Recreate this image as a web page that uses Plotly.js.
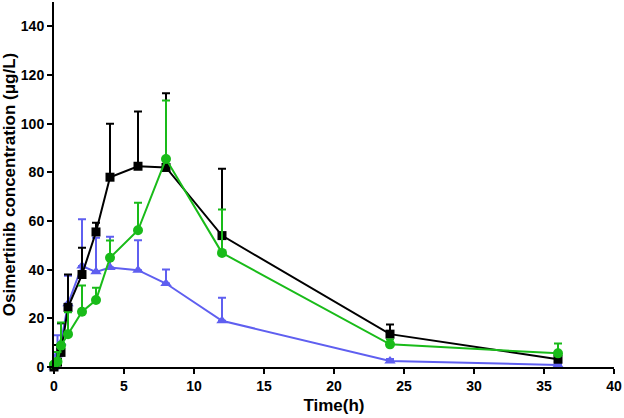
<!DOCTYPE html>
<html>
<head>
<meta charset="utf-8">
<script src="https://cdn.plot.ly/plotly-3.0.1.min.js"></script>
<style>html,body{margin:0;padding:0;background:#fff;}#chart{width:624px;height:418px;}</style>
</head>
<body>
<div id="chart"></div>
<script>
const timeH = [0, 0.25, 0.5, 1, 2, 3, 4, 6, 8, 12, 24, 36];

const blackMean = [0, 2, 6, 24.5, 38, 55.5, 78, 82.5, 82, 54, 13.5, 3.2];
const blackSD   = [0, 7, 12, 13.5, 11, 3.8, 22, 22.5, 30.5, 27.5, 4, 1.5];

const greenMean = [1, 2.2, 8.8, 13.5, 22.7, 27.5, 44.9, 56.2, 85.5, 46.9, 9.3, 5.6];
const greenSD   = [0.5, 4, 9.5, 9, 10.8, 5.1, 7.1, 11.3, 24, 17.8, 2, 4.1];

const blueMean = [0, 5, 10, 26, 41.5, 39.1, 40.9, 39.8, 34.3, 19, 2.5, 0.8];
const blueSD   = [0, 8, 8, 11.5, 19.2, 14, 12.6, 12.3, 5.8, 9.5, 0.8, 0.4];

const zeros = timeH.map(() => 0);

function series(y, sd, color, symbol, size) {
  return {
    x: timeH, y: y, type: 'scatter', mode: 'lines+markers',
    line: {color: color, width: 2},
    marker: {color: color, symbol: symbol, size: size},
    error_y: {type: 'data', symmetric: false, array: sd, arrayminus: zeros,
              color: color, thickness: 2, width: 4},
    cliponaxis: false, showlegend: false
  };
}

const traces = [
  series(blueMean, blueSD, '#5f5ff0', 'triangle-up', 10),
  series(blackMean, blackSD, '#000000', 'square', 9),
  series(greenMean, greenSD, '#19bb19', 'circle', 10)
];

const fam = 'Liberation Sans, Arial, sans-serif';
const font = {family: fam, color: '#000', size: 14, weight: 'bold'};
const titleFont = {family: fam, color: '#000', size: 17, weight: 'bold'};

const layout = {
  width: 624, height: 418,
  margin: {l: 54, r: 10, t: 2, b: 51},
  paper_bgcolor: '#fff', plot_bgcolor: '#fff',
  font: font,
  xaxis: {
    range: [0, 40], tickvals: [0, 5, 10, 15, 20, 25, 30, 35, 40],
    showgrid: false, zeroline: false, showline: true, linecolor: '#000', linewidth: 2,
    ticks: 'outside', ticklen: 5, tickwidth: 2, tickcolor: '#000',
    tickfont: font,
    title: {text: 'Time(h)', font: titleFont, standoff: 6}
  },
  yaxis: {
    range: [0, 150], tickvals: [0, 20, 40, 60, 80, 100, 120, 140],
    showgrid: false, zeroline: false, showline: true, linecolor: '#000', linewidth: 2,
    ticks: 'outside', ticklen: 5, tickwidth: 2, tickcolor: '#000',
    tickfont: font,
    title: {text: 'Osimertinib concentration (μg/L)', font: titleFont, standoff: 3}
  }
};

Plotly.newPlot('chart', traces, layout, {staticPlot: true, displayModeBar: false});
</script>
</body>
</html>
